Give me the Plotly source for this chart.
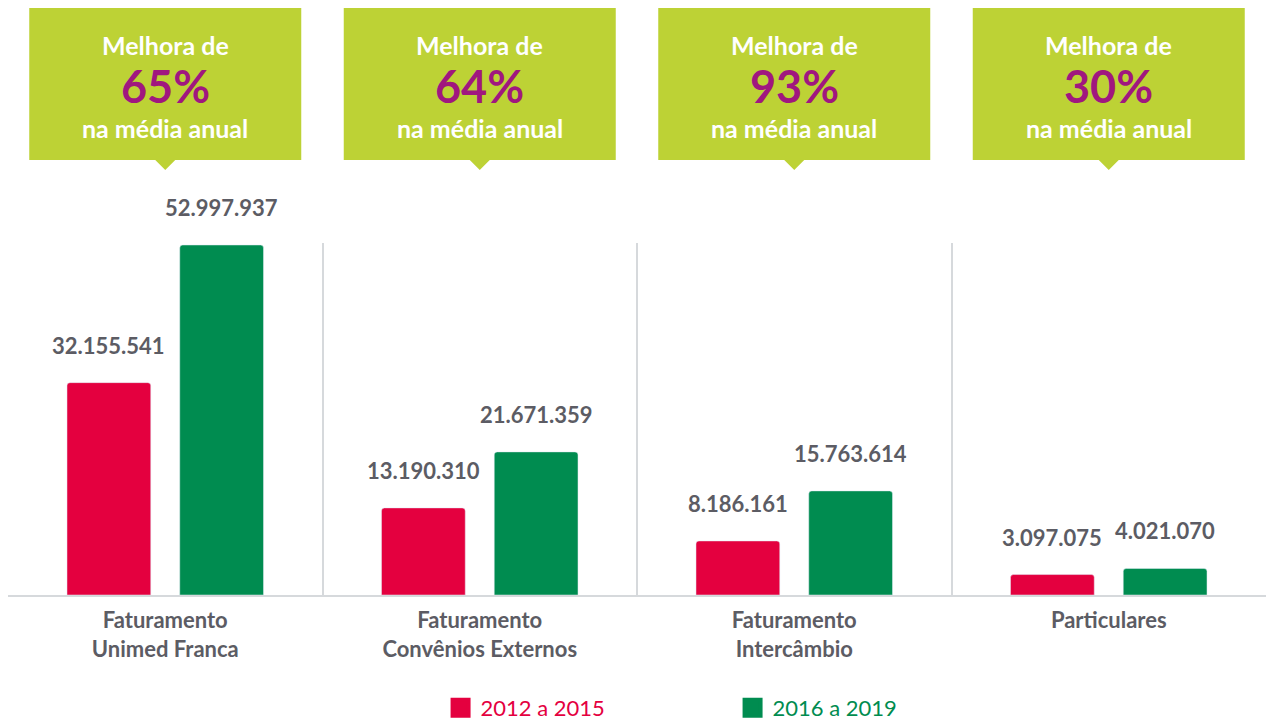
import plotly.graph_objects as go

categories = ["Faturamento<br>Unimed Franca", "Faturamento<br>Convênios Externos",
              "Faturamento<br>Intercâmbio", "Particulares"]
series_names = ["2012 a 2015", "2016 a 2019"]
values_2012_2015 = [32155541, 13190310, 8186161, 3097075]
values_2016_2019 = [52997937, 21671359, 15763614, 4021070]
value_labels_2012_2015 = ["32.155.541", "13.190.310", "8.186.161", "3.097.075"]
value_labels_2016_2019 = ["52.997.937", "21.671.359", "15.763.614", "4.021.070"]
improvements = ["65%", "64%", "93%", "30%"]

RED = "#E4003F"
GREEN = "#008C50"
LIME = "#BDD235"
PURPLE = "#A0177F"
GRAY = "#5C5C64"
LINE = "#D6D9DC"
FONT = "Lato"

fig = go.Figure()
fig.add_trace(go.Bar(x=categories, y=values_2012_2015, marker=dict(color=RED, cornerradius=3),
                     showlegend=False, hoverinfo="skip"))
fig.add_trace(go.Bar(x=categories, y=values_2016_2019, marker=dict(color=GREEN, cornerradius=3),
                     showlegend=False, hoverinfo="skip"))

# legend entries
for name, col in zip(series_names, [RED, GREEN]):
    fig.add_trace(go.Scatter(x=[None], y=[None], mode="markers",
                             name=f'<span style="color:{col}">{name}</span>',
                             marker=dict(symbol="square", size=16, color=col,
                                         line=dict(color=col, width=4))))

annotations = []
for i, cat in enumerate(categories):
    annotations.append(dict(x=cat, y=values_2012_2015[i], xref="x", yref="y", text=value_labels_2012_2015[i],
                            showarrow=False, xshift=-56.5, yshift=22, yanchor="bottom",
                            font=dict(family=FONT, size=22, color=GRAY, weight="bold")))
    annotations.append(dict(x=cat, y=values_2016_2019[i], xref="x", yref="y", text=value_labels_2016_2019[i],
                            showarrow=False, xshift=56.5, yshift=22, yanchor="bottom",
                            font=dict(family=FONT, size=22, color=GRAY, weight="bold")))
    annotations.append(dict(x=cat, y=1, xref="x", yref="paper", text="Melhora de", showarrow=False,
                            yshift=198, yanchor="middle",
                            font=dict(family=FONT, size=25, color="white", weight="bold")))
    annotations.append(dict(x=cat, y=1, xref="x", yref="paper", text=improvements[i], showarrow=False,
                            yshift=157, yanchor="middle",
                            font=dict(family=FONT, size=45, color=PURPLE, weight="bold")))
    annotations.append(dict(x=cat, y=1, xref="x", yref="paper", text="na média anual", showarrow=False,
                            yshift=115, yanchor="middle",
                            font=dict(family=FONT, size=25, color="white", weight="bold")))

shapes = []
for cat in categories:
    shapes.append(dict(type="rect", xref="x", xsizemode="pixel", xanchor=cat, x0=-136, x1=136,
                       yref="paper", ysizemode="pixel", yanchor=1, y0=83, y1=235,
                       fillcolor=LIME, line=dict(width=0), layer="below"))
    shapes.append(dict(type="path", xref="x", xsizemode="pixel", xanchor=cat,
                       yref="paper", ysizemode="pixel", yanchor=1,
                       path="M -11,84 L 11,84 L 0,73 Z",
                       fillcolor=LIME, line=dict(width=0), layer="below"))

fig.update_layout(
    width=1266, height=722,
    margin=dict(l=8, r=0, t=243, b=127),
    paper_bgcolor="white", plot_bgcolor="white",
    barmode="group", bargap=0.283, bargroupgap=0.257,
    annotations=annotations, shapes=shapes,
    showlegend=True,
    legend=dict(orientation="h", xref="container", yref="container",
                x=0.348, xanchor="left", y=0.0194, yanchor="middle",
                entrywidthmode="pixels", entrywidth=247,
                font=dict(family=FONT, size=22), itemsizing="trace"),
    font=dict(family=FONT),
)
fig.update_xaxes(type="category", categoryorder="array", categoryarray=categories,
                 range=[-0.5, 3.5], tickson="boundaries", showgrid=True, gridcolor=LINE, gridwidth=1.5,
                 showline=True, linecolor=LINE, linewidth=2, ticks="", ticklabelstandoff=5,
                 tickfont=dict(family=FONT, size=22, color=GRAY, weight="bold"),
                 automargin=False, fixedrange=True)
fig.update_yaxes(visible=False, range=[0, 53.3e6], showgrid=False, zeroline=False, fixedrange=True)

fig.write_html("out.html", config={"displayModeBar": False},
               post_script="document.body.style.margin='0';")
